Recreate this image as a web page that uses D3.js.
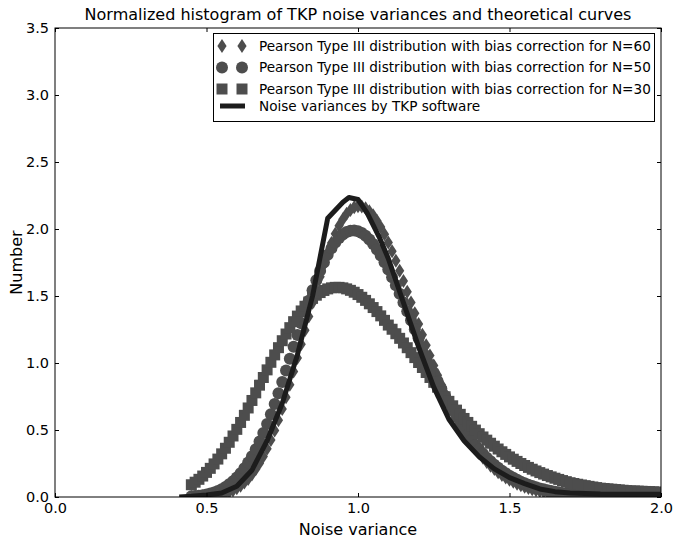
<!DOCTYPE html>
<html><head><meta charset="utf-8">
<script src="https://cdn.jsdelivr.net/npm/d3@7"></script>
<style>body{margin:0;background:#fff}svg{display:block}text{font-family:"DejaVu Sans",sans-serif}</style>
</head><body><div id="chart"></div>
<script>
const varianceGrid = [0.4500,0.4625,0.4750,0.4875,0.5000,0.5125,0.5250,0.5375,0.5500,0.5625,0.5750,0.5875,0.6000,0.6125,0.6250,0.6375,0.6500,0.6625,0.6750,0.6875,0.7000,0.7125,0.7250,0.7375,0.7500,0.7625,0.7750,0.7875,0.8000,0.8125,0.8250,0.8375,0.8500,0.8625,0.8750,0.8875,0.9000,0.9125,0.9250,0.9375,0.9500,0.9625,0.9750,0.9875,1.0000,1.0125,1.0250,1.0375,1.0500,1.0625,1.0750,1.0875,1.1000,1.1125,1.1250,1.1375,1.1500,1.1625,1.1750,1.1875,1.2000,1.2125,1.2250,1.2375,1.2500,1.2625,1.2750,1.2875,1.3000,1.3125,1.3250,1.3375,1.3500,1.3625,1.3750,1.3875,1.4000,1.4125,1.4250,1.4375,1.4500,1.4625,1.4750,1.4875,1.5000,1.5125,1.5250,1.5375,1.5500,1.5625,1.5750,1.5875,1.6000,1.6125,1.6250,1.6375,1.6500,1.6625,1.6750,1.6875,1.7000,1.7125,1.7250,1.7375,1.7500,1.7625,1.7750,1.7875,1.8000,1.8125,1.8250,1.8375,1.8500,1.8625,1.8750,1.8875,1.9000,1.9125,1.9250,1.9375,1.9500,1.9625,1.9750,1.9875,2.0000];
const pearsonN60 = [0.0008,0.0013,0.0020,0.0031,0.0047,0.0069,0.0100,0.0143,0.0200,0.0275,0.0372,0.0495,0.0649,0.0840,0.1073,0.1352,0.1683,0.2070,0.2517,0.3028,0.3604,0.4246,0.4954,0.5726,0.6558,0.7445,0.8382,0.9359,1.0367,1.1397,1.2435,1.3472,1.4495,1.5489,1.6444,1.7347,1.8188,1.8955,1.9640,2.0235,2.0735,2.1132,2.1425,2.1615,2.1697,2.1675,2.1552,2.1332,2.1021,2.0624,2.0150,1.9604,1.8997,1.8336,1.7630,1.6887,1.6117,1.5326,1.4523,1.3714,1.2907,1.2108,1.1322,1.0553,0.9806,0.9084,0.8391,0.7728,0.7097,0.6500,0.5936,0.5407,0.4912,0.4451,0.4022,0.3626,0.3261,0.2926,0.2619,0.2339,0.2084,0.1853,0.1643,0.1455,0.1285,0.1132,0.0996,0.0875,0.0766,0.0670,0.0585,0.0509,0.0443,0.0385,0.0333,0.0288,0.0248,0.0214,0.0184,0.0158,0.0136,0.0116,0.0099,0.0085,0.0072,0.0061,0.0052,0.0044,0.0037,0.0032,0.0027,0.0023,0.0019,0.0016,0.0013,0.0011,0.0009,0.0008,0.0007,0.0006,0.0005,0.0004,0.0003,0.0003,0.0002];
const pearsonN50 = [0.0047,0.0069,0.0098,0.0138,0.0190,0.0257,0.0343,0.0452,0.0586,0.0750,0.0947,0.1182,0.1459,0.1781,0.2150,0.2570,0.3042,0.3566,0.4144,0.4773,0.5452,0.6178,0.6946,0.7751,0.8588,0.9448,1.0324,1.1209,1.2092,1.2966,1.3820,1.4647,1.5437,1.6182,1.6875,1.7508,1.8075,1.8571,1.8992,1.9335,1.9598,1.9779,1.9878,1.9897,1.9837,1.9701,1.9492,1.9215,1.8875,1.8475,1.8022,1.7522,1.6980,1.6404,1.5797,1.5167,1.4518,1.3857,1.3190,1.2519,1.1850,1.1187,1.0534,0.9893,0.9269,0.8662,0.8076,0.7512,0.6971,0.6455,0.5963,0.5497,0.5057,0.4642,0.4253,0.3888,0.3548,0.3231,0.2936,0.2664,0.2412,0.2180,0.1968,0.1772,0.1594,0.1430,0.1282,0.1147,0.1024,0.0914,0.0814,0.0724,0.0643,0.0570,0.0504,0.0445,0.0393,0.0347,0.0305,0.0268,0.0236,0.0206,0.0181,0.0158,0.0138,0.0120,0.0105,0.0091,0.0079,0.0069,0.0060,0.0052,0.0045,0.0039,0.0033,0.0029,0.0025,0.0021,0.0018,0.0016,0.0014,0.0012,0.0010,0.0009,0.0007];
const pearsonN30 = [0.0914,0.1104,0.1320,0.1564,0.1836,0.2138,0.2469,0.2830,0.3220,0.3638,0.4083,0.4554,0.5048,0.5563,0.6096,0.6644,0.7204,0.7772,0.8345,0.8918,0.9488,1.0052,1.0605,1.1143,1.1664,1.2163,1.2637,1.3084,1.3501,1.3885,1.4234,1.4547,1.4823,1.5059,1.5256,1.5413,1.5531,1.5608,1.5645,1.5645,1.5607,1.5532,1.5423,1.5281,1.5107,1.4903,1.4673,1.4417,1.4138,1.3837,1.3518,1.3182,1.2831,1.2519,1.2185,1.1841,1.1494,1.1140,1.0773,1.0403,1.0035,0.9666,0.9292,0.8920,0.8556,0.8196,0.7836,0.7481,0.7138,0.6807,0.6484,0.6169,0.5862,0.5565,0.5275,0.4995,0.4725,0.4480,0.4242,0.4012,0.3792,0.3581,0.3376,0.3179,0.2992,0.2821,0.2658,0.2502,0.2352,0.2210,0.2074,0.1944,0.1821,0.1709,0.1602,0.1501,0.1404,0.1313,0.1227,0.1145,0.1067,0.1009,0.0953,0.0898,0.0846,0.0795,0.0748,0.0702,0.0658,0.0633,0.0608,0.0583,0.0556,0.0530,0.0503,0.0476,0.0451,0.0447,0.0437,0.0426,0.0413,0.0401,0.0385,0.0369,0.0352];
const tkpX = [0.41,0.45,0.50,0.55,0.60,0.65,0.70,0.75,0.80,0.85,0.90,0.95,0.97,1.00,1.03,1.07,1.10,1.15,1.20,1.25,1.30,1.35,1.40,1.45,1.50,1.55,1.60,1.65,1.70,1.80,1.90,2.00];
const tkpY = [0.00,0.005,0.015,0.03,0.08,0.20,0.42,0.70,1.06,1.50,2.08,2.20,2.235,2.22,2.12,1.94,1.78,1.45,1.12,0.82,0.58,0.42,0.30,0.21,0.145,0.10,0.06,0.04,0.03,0.022,0.02,0.02];
const xTicks = [0.0,0.5,1.0,1.5,2.0];
const yTicks = [0.0,0.5,1.0,1.5,2.0,2.5,3.0,3.5];
const legendLabels = [
  "Pearson Type III distribution with bias correction for N=60",
  "Pearson Type III distribution with bias correction for N=50",
  "Pearson Type III distribution with bias correction for N=30",
  "Noise variances by TKP software"];
const titleText = "Normalized histogram of TKP noise variances and theoretical curves";

const W = 676, H = 542;
const m = {l:55, r:15, t:28, b:45};
const pw = W - m.l - m.r, ph = H - m.t - m.b;
const markerColor = "#4d4d4d", lineColor = "#1c1c1c";

const svg = d3.select("#chart").append("svg").attr("width", W).attr("height", H);
const x = d3.scaleLinear().domain([0, 2]).range([m.l, m.l + pw]);
const y = d3.scaleLinear().domain([0, 3.5]).range([m.t + ph, m.t]);

svg.append("defs").append("clipPath").attr("id", "clip")
  .append("rect").attr("x", m.l).attr("y", m.t).attr("width", pw).attr("height", ph);

const plot = svg.append("g").attr("clip-path", "url(#clip)");

const thinDiamond = {draw(ctx){ const h = 7, w = 4.6; ctx.moveTo(0,-h); ctx.lineTo(w,0); ctx.lineTo(0,h); ctx.lineTo(-w,0); ctx.closePath(); }};
const sym = {
  diamond: d3.symbol().type(thinDiamond)(),
  circle: d3.symbol().type(d3.symbolCircle).size(Math.PI*6*6)(),
  square: d3.symbol().type(d3.symbolSquare).size(11*11)()
};

const seriesList = [
  {vals: pearsonN60, shape: "diamond"},
  {vals: pearsonN50, shape: "circle"},
  {vals: pearsonN30, shape: "square"}
];
seriesList.forEach(s => {
  plot.append("g").selectAll("path").data(varianceGrid.map((v,i)=>[v, s.vals[i]]))
    .join("path")
    .attr("d", sym[s.shape])
    .attr("transform", d => `translate(${x(d[0])},${y(d[1])})`)
    .attr("fill", markerColor);
});

const tkp = tkpX.map((v,i)=>[v, tkpY[i]]);
plot.append("path").datum(tkp)
  .attr("d", d3.line().x(d=>x(d[0])).y(d=>y(d[1])))
  .attr("fill", "none").attr("stroke", lineColor).attr("stroke-width", 5)
  .attr("stroke-linejoin", "round");

svg.append("rect").attr("x", m.l).attr("y", m.t).attr("width", pw).attr("height", ph)
  .attr("fill", "none").attr("stroke", "#000").attr("stroke-width", 1);

const tl = 4;
const xb = svg.append("g").attr("transform", `translate(0,${m.t+ph})`)
  .call(d3.axisBottom(x).tickValues(xTicks).tickSize(-tl).tickPadding(6).tickFormat(d3.format(".1f")));
const xt = svg.append("g").attr("transform", `translate(0,${m.t})`)
  .call(d3.axisTop(x).tickValues(xTicks).tickSize(-tl).tickFormat(""));
const yl = svg.append("g").attr("transform", `translate(${m.l},0)`)
  .call(d3.axisLeft(y).tickValues(yTicks).tickSize(-tl).tickPadding(6).tickFormat(d3.format(".1f")));
const yr = svg.append("g").attr("transform", `translate(${m.l+pw},0)`)
  .call(d3.axisRight(y).tickValues(yTicks).tickSize(-tl).tickFormat(""));
[xb, xt, yl, yr].forEach(g => {
  g.select(".domain").remove();
  g.selectAll("line").attr("stroke", "#000");
  g.selectAll("text").attr("fill", "#000").style("font-size", "14.5px").style("font-family", '"DejaVu Sans"');
});

svg.append("text").attr("x", m.l + pw/2).attr("y", 20).attr("text-anchor", "middle")
  .style("font-size", "16px").text(titleText);
svg.append("text").attr("x", m.l + pw/2).attr("y", 535).attr("text-anchor", "middle")
  .style("font-size", "16px").text("Noise variance");
svg.append("text").attr("transform", `translate(22,${m.t+ph/2}) rotate(-90)`).attr("text-anchor", "middle")
  .style("font-size", "16px").text("Number");

const lg = svg.append("g");
lg.append("rect").attr("x", 213.5).attr("y", 33.5).attr("width", 441).attr("height", 88)
  .attr("fill", "#fff").attr("stroke", "#000").attr("stroke-width", 1);
const rowY = [46, 67.5, 89, 106];
const shapes = ["diamond", "circle", "square"];
legendLabels.forEach((lab, i) => {
  const cy = rowY[i];
  if (i < 3) {
    [222, 242].forEach(cx => lg.append("path").attr("d", sym[shapes[i]])
      .attr("transform", `translate(${cx},${cy})`).attr("fill", markerColor));
  } else {
    lg.append("line").attr("x1", 220).attr("x2", 245).attr("y1", cy).attr("y2", cy)
      .attr("stroke", lineColor).attr("stroke-width", 5);
  }
  lg.append("text").attr("x", 259).attr("y", cy).attr("dy", "0.35em")
    .style("font-size", "13.6px").text(lab);
});
</script></body></html>
